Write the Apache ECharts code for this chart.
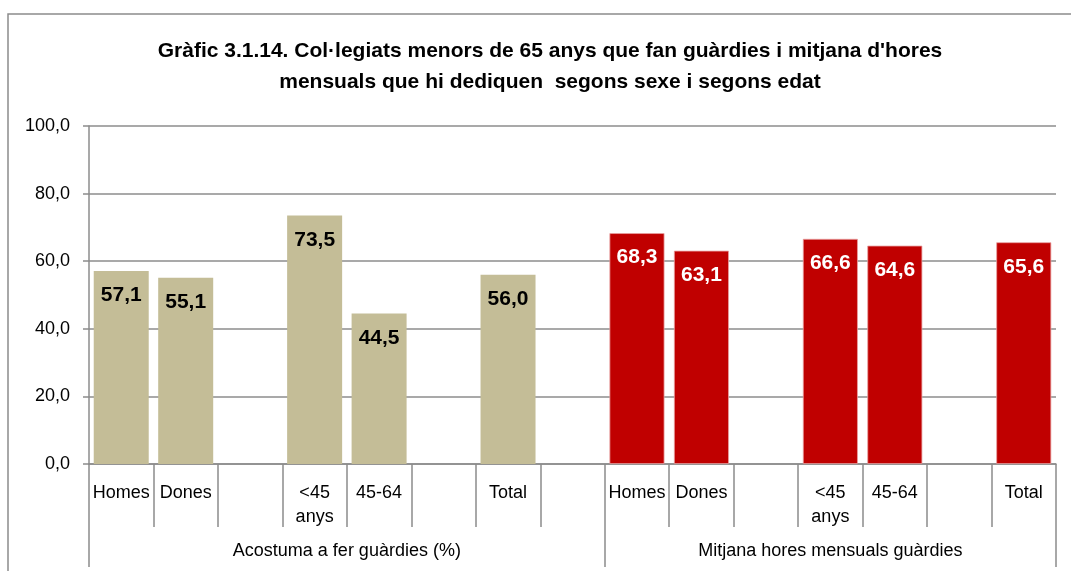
<!DOCTYPE html>
<html>
<head>
<meta charset="utf-8">
<script src="https://cdn.jsdelivr.net/npm/echarts@6/dist/echarts.min.js"></script>
<style>
  html, body { margin: 0; padding: 0; background: #fff; }
  #chart { width: 1071px; height: 571px; }
</style>
</head>
<body>
<div id="chart"></div>
<script>
const categories = ["Homes", "Dones", "", "<45\nanys", "45-64", "", "Total", "",
  "Homes", "Dones", "", "<45\nanys", "45-64", "", "Total"];
const guardies = [57.1, 55.1, null, 73.5, 44.5, null, 56.0, null,
  null, null, null, null, null, null, null];
const hores = [null, null, null, null, null, null, null, null,
  68.3, 63.1, null, 66.6, 64.6, null, 65.6];
const groups = ["Acostuma a fer guàrdies (%)", "Mitjana hores mensuals guàrdies"];
const groupBounds = [0, 8, 15];
const yTicks = [0, 20, 40, 60, 80, 100];

const font = "'Liberation Sans', Arial, sans-serif";
const grey = "#8c8c8c";

document.addEventListener("DOMContentLoaded", function () {
  const chart = echarts.init(document.getElementById("chart"));
  const comma = v => v.toFixed(1).replace(".", ",");
  const groupCenters = groups.map((g, i) => (groupBounds[i] + groupBounds[i + 1]) / 2);

  const option = {
    animation: false,
    graphic: [{
      type: "rect",
      shape: { x: 8, y: 14, width: 1200, height: 700 },
      style: { fill: "none", stroke: grey, lineWidth: 1.5 }
    }],
    title: {
      text: "Gràfic 3.1.14. Col·legiats menors de 65 anys que fan guàrdies i mitjana d'hores\nmensuals que hi dediquen  segons sexe i segons edat",
      left: 545,
      textAlign: "center",
      top: 31,
      textStyle: { fontFamily: font, fontSize: 21, fontWeight: "bold", color: "#000", lineHeight: 31 }
    },
    grid: { left: 89, right: 15, top: 126, bottom: 107 },
    xAxis: [{
      type: "category",
      data: categories,
      axisLine: { lineStyle: { color: grey, width: 1.5 } },
      axisTick: { show: true, interval: 0, length: 63, lineStyle: { color: grey, width: 1.5 } },
      axisLabel: {
        interval: 0, margin: 17, verticalAlign: "top", lineHeight: 24,
        fontFamily: font, fontSize: 18, color: "#000"
      }
    }, {
      type: "value",
      min: 0,
      max: categories.length,
      position: "bottom",
      splitLine: { show: false },
      axisLine: { show: false },
      axisTick: { show: true, customValues: groupBounds, length: 103, lineStyle: { color: grey, width: 1.5 } },
      axisLabel: {
        customValues: groupCenters,
        formatter: v => groups[groupCenters.indexOf(v)] || "",
        margin: 87, verticalAlign: "middle",
        fontFamily: font, fontSize: 18, color: "#000"
      }
    }],
    yAxis: {
      type: "value",
      min: yTicks[0],
      max: yTicks[yTicks.length - 1],
      interval: 20,
      axisLine: { show: true, lineStyle: { color: grey, width: 1.5 } },
      axisTick: { show: true, length: 6, lineStyle: { color: grey, width: 1.5 } },
      splitLine: { lineStyle: { color: grey, width: 1.5 } },
      axisLabel: { formatter: comma, margin: 19, fontFamily: font, fontSize: 18, color: "#000" }
    },
    series: [{
      type: "bar",
      data: guardies,
      barWidth: 55,
      barGap: "-100%",
      itemStyle: { color: "#C4BD97" },
      label: {
        show: true, position: "insideTop", distance: 14,
        formatter: p => comma(p.value),
        fontFamily: font, fontSize: 21, fontWeight: "bold", color: "#000"
      }
    }, {
      type: "bar",
      data: hores,
      barWidth: 55,
      barGap: "-100%",
      itemStyle: { color: "#C00000", borderColor: "#E8A0A0", borderWidth: 0.8 },
      label: {
        show: true, position: "insideTop", distance: 14,
        formatter: p => comma(p.value),
        fontFamily: font, fontSize: 21, fontWeight: "bold", color: "#fff"
      }
    }]
  };
  chart.setOption(option);
  window.addEventListener("resize", function () {
    chart.resize();
  });
});
</script>
</body>
</html>
